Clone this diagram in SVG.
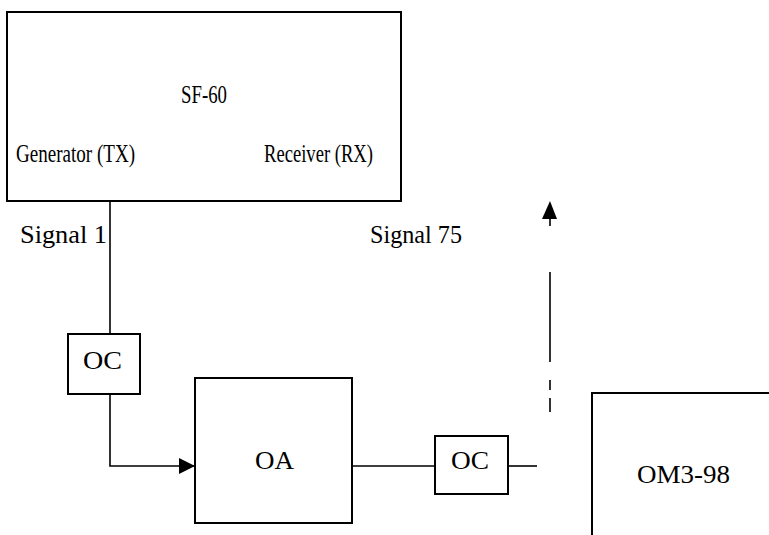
<svg xmlns="http://www.w3.org/2000/svg" width="769" height="535" viewBox="0 0 769 535">
<style>
.box{fill:#fff;stroke:#000;stroke-width:2}
.ln{fill:none;stroke:#000;stroke-width:1.6}
.t{font-family:"Liberation Serif","Times New Roman",serif;font-size:25px;fill:#000}
</style>
<defs>
<marker id="ah" viewBox="0 0 10 10" refX="10" refY="5" markerWidth="16" markerHeight="16" markerUnits="userSpaceOnUse" orient="auto">
<path d="M0,0 L10,5 L0,10 Z" fill="#000"/>
</marker>
</defs>
<rect width="769" height="535" fill="#fff"/>
<g id="connectors">
<path class="ln" d="M110,201 V334"/>
<path class="ln" d="M110,394 V466 H195" marker-end="url(#ah)"/>
<path class="ln" d="M352,466 H435"/>
<path class="ln" d="M508,466 H537"/>
<path class="ln" d="M550,412 V398 M550,390 V380 M550,362 V272 M550,226 V218"/>
<path d="M542,219 L557,219 L550,201 Z" fill="#000"/>
</g>
<g id="sf60">
<rect class="box" x="7" y="12" width="394" height="189"/>
<text class="t" x="181" y="103" textLength="46" lengthAdjust="spacingAndGlyphs">SF-60</text>
<text class="t" x="16" y="162" textLength="119" lengthAdjust="spacingAndGlyphs">Generator (TX)</text>
<text class="t" x="264" y="162" textLength="109" lengthAdjust="spacingAndGlyphs">Receiver (RX)</text>
</g>
<g id="labels">
<text class="t" x="20" y="243" textLength="87" lengthAdjust="spacingAndGlyphs">Signal 1</text>
<text class="t" x="370" y="243" textLength="92" lengthAdjust="spacingAndGlyphs">Signal 75</text>
</g>
<g id="oc1">
<rect class="box" x="68" y="334" width="72" height="60"/>
<text class="t" x="83" y="369" textLength="39" lengthAdjust="spacingAndGlyphs">OC</text>
</g>
<g id="oa">
<rect class="box" x="195" y="378" width="157" height="145"/>
<text class="t" x="255" y="469" textLength="39" lengthAdjust="spacingAndGlyphs">OA</text>
</g>
<g id="oc2">
<rect class="box" x="435" y="436" width="73" height="58"/>
<text class="t" x="451" y="469" textLength="38" lengthAdjust="spacingAndGlyphs">OC</text>
</g>
<g id="om3">
<path class="box" d="M592,540 V393 H772"/>
<text class="t" x="637" y="483" textLength="93" lengthAdjust="spacingAndGlyphs">OM3-98</text>
</g>
</svg>
